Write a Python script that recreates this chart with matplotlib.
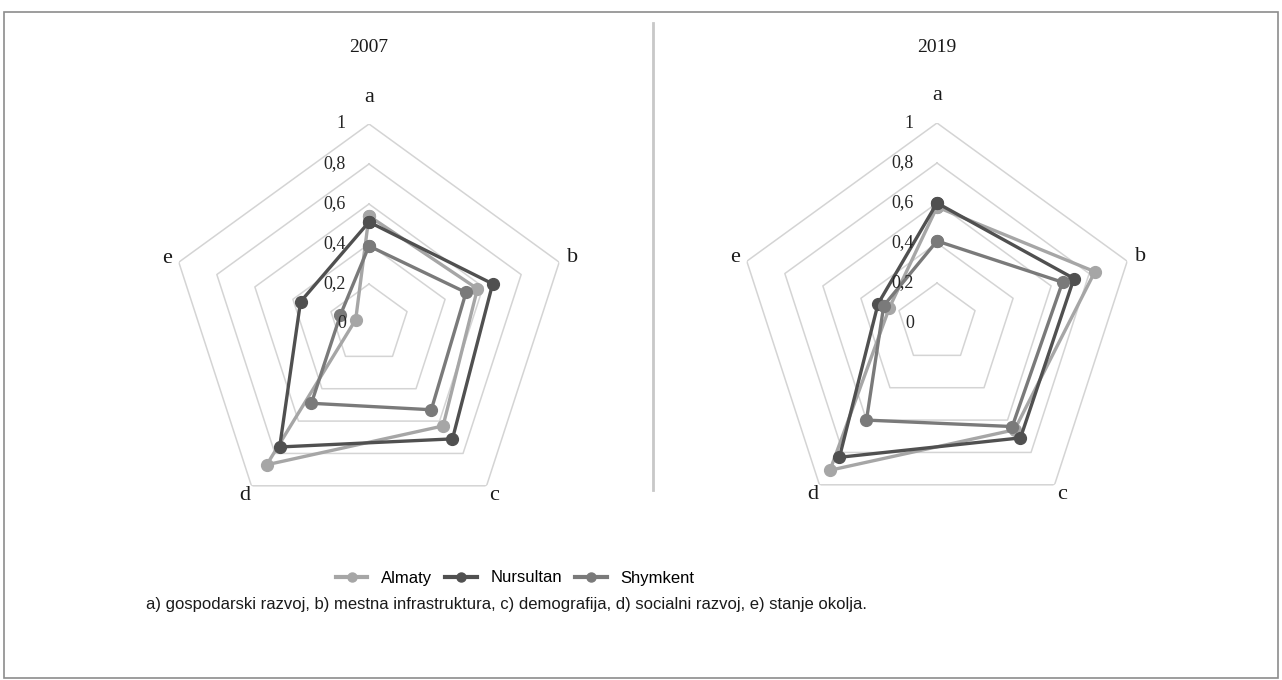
import numpy as np
import matplotlib
matplotlib.use("Agg")
from matplotlib import pyplot as plt
from matplotlib.lines import Line2D
from matplotlib.patches import Rectangle

# axes of the radar
categories = ["a", "b", "c", "d", "e"]
levels = [0, 0.2, 0.4, 0.6, 0.8, 1]
level_labels = ["0", "0,2", "0,4", "0,6", "0,8", "1"]

cities = ["Almaty", "Nursultan", "Shymkent"]
colors = ["#a6a6a6", "#505050", "#7a7a7a"]

# values (a, b, c, d, e)
almaty_2007    = [0.54, 0.57, 0.63, 0.87, 0.07]
nursultan_2007 = [0.51, 0.65, 0.71, 0.76, 0.36]
shymkent_2007  = [0.39, 0.51, 0.53, 0.49, 0.15]

almaty_2019    = [0.58, 0.83, 0.66, 0.91, 0.25]
nursultan_2019 = [0.60, 0.72, 0.71, 0.83, 0.31]
shymkent_2019  = [0.41, 0.66, 0.64, 0.60, 0.28]

caption = ("a) gospodarski razvoj, b) mestna infrastruktura, c) demografija, "
           "d) socialni razvoj, e) stanje okolja.")

SERIF = ["Liberation Serif", "DejaVu Serif"]
SANS = ["Liberation Sans", "DejaVu Sans"]

W, H = 1282, 680
fig = plt.figure(figsize=(W / 100, H / 100), dpi=100)
fig.patch.set_facecolor("white")

angles = np.arange(len(categories)) * 2 * np.pi / len(categories)
closed = np.append(angles, angles[0])
label_r = [1.135, 1.07, 1.06, 1.06, 1.06]


def radar(cx, cy, title, series):
    R = 200
    ax = fig.add_axes([(cx - R) / W, (H - cy - R) / H, 2 * R / W, 2 * R / H],
                      projection="polar")
    ax.set_theta_offset(np.pi / 2)
    ax.set_theta_direction(-1)
    ax.set_ylim(0, 1)
    ax.grid(False)
    ax.spines["polar"].set_visible(False)
    ax.set_xticks([])
    ax.set_yticks([])
    ax.patch.set_alpha(0)

    # pentagon grid
    for lv in levels[1:]:
        ax.plot(closed, [lv] * len(closed), color="#d4d4d4", lw=1.1, zorder=1)

    for vals, col in zip(series, colors):
        v = np.append(vals, vals[0])
        ax.plot(closed, v, color=col, lw=2.4, marker="o", ms=8.5,
                solid_joinstyle="round", zorder=3)

    for lv, lab in zip(levels, level_labels):
        ax.annotate(lab, xy=(0, lv), xytext=(-23, 0), textcoords="offset pixels",
                    ha="right", va="center", fontsize=13, family=SERIF,
                    color="#262626", zorder=4, annotation_clip=False)

    for ang, cat, lr in zip(angles, categories, label_r):
        ax.text(ang, lr, cat, ha="center", va="center", fontsize=16,
                family=SERIF, color="#1a1a1a")

    fig.text(cx / W, 1 - 47 / H, title, ha="center", va="center",
             fontsize=14, family=SERIF, color="#1a1a1a")
    return ax


radar(369, 324, "2007", [almaty_2007, nursultan_2007, shymkent_2007])
radar(937, 323, "2019", [almaty_2019, nursultan_2019, shymkent_2019])

# separator between the two panels
fig.add_artist(Line2D([653 / W, 653 / W], [1 - 23 / H, 1 - 490 / H],
                      color="#c8c8c8", lw=2))

# outer frame
fig.add_artist(Rectangle((4 / W, 2 / H), 1274 / W, 1 - 14 / H, fill=False,
                         edgecolor="#8c8c8c", lw=1.2, transform=fig.transFigure))

handles = [Line2D([], [], color=c, lw=3, marker="o", ms=6.5) for c in colors]
fig.legend(handles, cities, loc="center", bbox_to_anchor=(515 / W, 1 - 578 / H),
           ncol=3, frameon=False, prop={"family": SANS, "size": 12},
           handlelength=1.9, columnspacing=0.8, handletextpad=0.8)

fig.text(506 / W, 1 - 604 / H, caption, ha="center", va="center",
         fontsize=12, family=SANS, color="#1a1a1a")

fig.savefig("out.png", dpi=100, facecolor="white")
